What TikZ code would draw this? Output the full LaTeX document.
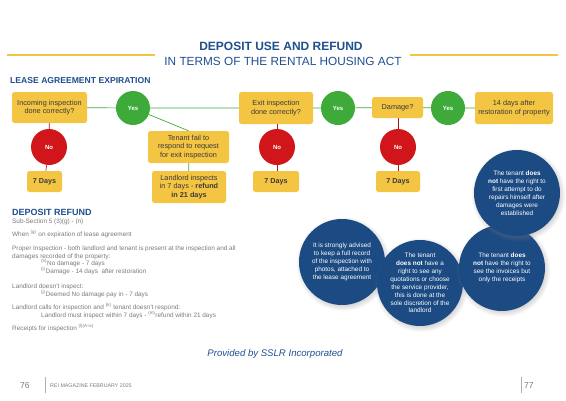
\documentclass[tikz,border=0pt]{standalone}
\usepackage{fontspec}
\setmainfont{Liberation Sans}
\usetikzlibrary{backgrounds,shadows}
\definecolor{ybox}{HTML}{F4C542}
\definecolor{gcirc}{HTML}{3DAA3A}
\definecolor{rcirc}{HTML}{D1161B}
\definecolor{navy}{HTML}{1C4A82}
\definecolor{ttl}{HTML}{1F4F8F}
\definecolor{gtext}{HTML}{7A7A7A}
\definecolor{ltext}{HTML}{3A3A3A}
\begin{document}
\begin{tikzpicture}[x=1pt,y=-1pt,
  ybx/.style={fill=ybox,rounded corners=2.5pt,inner sep=1pt,align=center,text=ltext,font=\fontsize{7.3}{8.6}\selectfont},
  dbx/.style={ybx,font=\fontsize{7.2}{8.6}\selectfont\bfseries},
  yes/.style={circle,fill=gcirc,minimum size=34pt,inner sep=0pt,text=white,font=\fontsize{6}{7}\selectfont\bfseries},
  no/.style={circle,fill=rcirc,minimum size=36pt,inner sep=0pt,text=white,font=\fontsize{6}{7}\selectfont\bfseries},
  bc/.style={circle,fill=navy,minimum size=86pt,inner sep=0pt,align=center,text=white,font=\fontsize{6.4}{7.9}\selectfont,
    circular drop shadow={shadow xshift=1pt,shadow yshift=-1.5pt,opacity=0.35}},
  gl/.style={draw=gcirc,line width=0.7pt},
  rl/.style={draw=rcirc!80!black,line width=0.6pt},
  body/.style={anchor=base west,inner sep=0pt,text=gtext,font=\fontsize{6.4}{7.5}\selectfont},
  yline/.style={draw=ybox,line width=1.5pt}]
\useasboundingbox (0,0) rectangle (566,400);
% title
\node[text=ttl,font=\fontsize{12}{14}\selectfont\bfseries] (t1) at (281,46) {DEPOSIT USE AND REFUND};
\node[text=ttl,font=\fontsize{11.8}{13}\selectfont] (t2) at (283,61.5) {IN TERMS OF THE RENTAL HOUSING ACT};
\coordinate (la) at (7,55); \coordinate (lb) at (155,55);
\coordinate (ra) at (410,55); \coordinate (rb) at (558,55);
\draw[yline] (la) -- (lb); \draw[yline] (ra) -- (rb);
\node[anchor=west,inner sep=0pt,text=ttl,font=\fontsize{8.6}{10}\selectfont\bfseries] (lae) at (10,81) {LEASE AGREEMENT EXPIRATION};
% flow
\node[ybx,minimum width=75pt,minimum height=31pt] (inc) at (49.5,107.5) {Incoming inspection\\done correctly?};
\node[yes] (y1) at (133,108) {Yes};
\node[no] (n1) at (49,147) {No};
\node[dbx,minimum width=35pt,minimum height=21pt] (d1) at (44.5,181.5) {7 Days};
\node[ybx,minimum width=81pt,minimum height=32pt] (ten) at (188.5,147) {Tenant fail to\\respond to request\\for exit inspection};
\node[ybx,minimum width=74pt,minimum height=32pt] (lan) at (189,187) {Landlord inspects\\in 7 days - \textbf{refund}\\\textbf{in 21 days}};
\node[ybx,minimum width=74pt,minimum height=32pt] (ex) at (276,108) {Exit inspection\\done correctly?};
\node[yes] (y2) at (338,108) {Yes};
\node[ybx,minimum width=51pt,minimum height=21pt] (dam) at (397.5,107.5) {Damage?};
\node[yes] (y3) at (448,108) {Yes};
\node[ybx,minimum width=78pt,minimum height=32pt] (ft) at (514,108) {14 days after\\restoration of property};
\node[no] (n2) at (277,147) {No};
\node[dbx,minimum width=46pt,minimum height=21pt] (d2) at (276,181.5) {7 Days};
\node[no] (n3) at (398,147) {No};
\node[dbx,minimum width=44pt,minimum height=21pt] (d3) at (398,181.5) {7 Days};
\begin{scope}[on background layer]
\draw[gl] (inc) -- (y1) -- (ex) -- (y2) -- (dam) -- (y3) -- (ft);
\draw[gl] (y1) -- (ten.north);
\draw[gl] (ten) -- (lan);
\draw[rl] (inc) -- (n1) -- (d1);
\draw[rl] (ex.south -| n2) -- (n2) -- (d2.north -| n2);
\draw[rl] (dam.south -| n3) -- (n3) -- (d3);
\end{scope}
% blue circles
\node[bc] (cd) at (342,262) {It is strongly advised\\to keep a full record\\of the inspection with\\photos, attached to\\the lease agreement};
\node[bc] (cc) at (420,283) {The tenant\\\textbf{does not} have a\\right to see any\\quotations or choose\\the service provider,\\this is done at the\\sole discretion of the\\landlord};
\node[bc] (cb) at (502,268) {The tenant \textbf{does}\\\textbf{not} have the right to\\see the invoices but\\only the receipts};
\node[bc] (ca) at (517,193) {The tenant \textbf{does}\\\textbf{not} have the right to\\first attempt to do\\repairs himself after\\damages were\\established};
% deposit refund
\node[anchor=base west,inner sep=0pt,text=ttl,font=\fontsize{9}{10}\selectfont\bfseries] (dr) at (12,215) {DEPOSIT REFUND};
\node[body] (s1) at (12,223.5) {Sub-Section 5 (3)(g) - (n)};
\node[body] (s2) at (12,236.5) {When \textsuperscript{(g)} on expiration of lease agreement};
\node[body] (s3) at (12,250.5) {Proper Inspection - both landlord and tenant is present at the inspection and all};
\node[body] (s4) at (12,258) {damages recorded of the property:};
\node[body] (s5) at (41,265.5) {\textsuperscript{(h)}No damage - 7 days};
\node[body] (s6) at (41,273.5) {\textsuperscript{(i)}Damage - 14 days\ \ after restoration};
\node[body] (s7) at (12,288.5) {Landlord doesn't inspect:};
\node[body] (s8) at (41,296) {\textsuperscript{(j)}Deemed No damage pay in - 7 days};
\node[body] (s9) at (12,309.5) {Landlord calls for inspection and \textsuperscript{(k)} tenant doesn't respond:};
\node[body] (s10) at (41,317.5) {Landlord must inspect within 7 days - \textsuperscript{(m)}refund within 21 days};
\node[body] (s11) at (12,330.5) {Receipts for inspection \textsuperscript{(l)(A-iv)}};
\node[text=ttl,font=\fontsize{9.6}{11}\selectfont\itshape] (pb) at (275,354) {Provided by SSLR Incorporated};
% footer
\node[anchor=base west,inner sep=0pt,text=gtext,font=\fontsize{8.5}{10}\selectfont] (p76) at (20,388) {76};
\coordinate (fa) at (45,377); \coordinate (fb) at (45,393);
\draw[gtext!60,line width=0.5pt] (fa) -- (fb);
\node[anchor=base west,inner sep=0pt,text=gtext,font=\fontsize{5.3}{6}\selectfont] (mag) at (50,387) {REI MAGAZINE FEBRUARY 2025};
\coordinate (fc) at (521,377); \coordinate (fd) at (521,393);
\draw[gtext!60,line width=0.5pt] (fc) -- (fd);
\node[anchor=base west,inner sep=0pt,text=gtext,font=\fontsize{8.5}{10}\selectfont] (p77) at (524,388) {77};
\end{tikzpicture}
\end{document}
